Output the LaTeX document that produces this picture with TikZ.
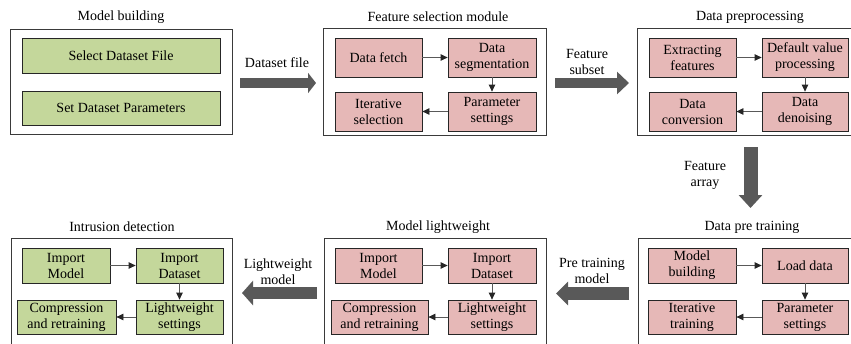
\documentclass[tikz,border=0pt]{standalone}
\usepackage{fontspec}
\setmainfont{Liberation Serif}
\usetikzlibrary{arrows.meta}
\definecolor{gfill}{HTML}{C4D79B}
\definecolor{pfill}{HTML}{E6B8B7}
\definecolor{barrow}{HTML}{595959}
\definecolor{oline}{HTML}{3A3A3A}
\begin{document}
\begin{tikzpicture}[x=1pt,y=-1pt,
  every node/.style={font=\fontsize{14}{16}\selectfont, inner sep=0pt, align=center},
  outerbox/.style={draw=oline, line width=0.8pt, fill=white},
  gbox/.style={draw=black!85, line width=0.8pt, fill=gfill},
  pbox/.style={draw=black!85, line width=0.8pt, fill=pfill},
  ttl/.style={},
  lbl/.style={},
  arr/.style={draw=black!65, line width=0.8pt, -{Triangle[length=7pt,width=6.5pt,color=black!85,fill=black!85]}},
]
\clip (0,0) rectangle (851,343);
\fill[white] (0,0) rectangle (851,343);

% ---------- Module 1: Model building
\node[outerbox, minimum width=222pt, minimum height=105pt] (o1) at (121,81.5) {};
\node[ttl] (t1) at (121,17) {Model building};
\node[gbox, minimum width=198pt, minimum height=35pt] (sdf) at (121,55.5) {Select Dataset File};
\node[gbox, minimum width=198pt, minimum height=34pt] (sdp) at (121,108) {Set Dataset Parameters};

% ---------- Module 2: Feature selection module
\node[outerbox, minimum width=223pt, minimum height=107pt] (o2) at (434.5,81.5) {};
\node[ttl] (t2) at (438,17) {Feature selection module};
\node[pbox, minimum width=87pt, minimum height=39pt] (df) at (378.5,57.5) {Data fetch};
\node[pbox, minimum width=88pt, minimum height=39pt] (ds) at (492,57.5) {Data\\segmentation};
\node[pbox, minimum width=87pt, minimum height=39pt] (is) at (378.5,111.5) {Iterative\\selection};
\node[pbox, minimum width=88pt, minimum height=39pt] (ps) at (492,111.5) {Parameter\\settings};
\draw[arr] (df) -- (ds);
\draw[arr] (ds) -- (ps);
\draw[arr] (ps) -- (is);

% ---------- Module 3: Data preprocessing
\node[outerbox, minimum width=223pt, minimum height=107pt] (o3) at (748.5,81.5) {};
\node[ttl] (t3) at (750,17) {Data preprocessing};
\node[pbox, minimum width=87pt, minimum height=39pt] (ef) at (692.5,57.5) {Extracting\\features};
\node[pbox, minimum width=86pt, minimum height=39pt] (dv) at (805,57.5) {Default value\\processing};
\node[pbox, minimum width=87pt, minimum height=39pt] (dc) at (692.5,111.5) {Data\\conversion};
\node[pbox, minimum width=86pt, minimum height=39pt] (dd) at (805,111.5) {Data\\denoising};
\draw[arr] (ef) -- (dv);
\draw[arr] (dv) -- (dd);
\draw[arr] (dd) -- (dc);

% ---------- Module 4: Data pre training
\node[outerbox, minimum width=222pt, minimum height=122pt] (o4) at (749,299) {};
\node[ttl] (t4) at (752,227) {Data pre training};
\node[pbox, minimum width=88pt, minimum height=35pt] (mb) at (692,265.5) {Model\\building};
\node[pbox, minimum width=86pt, minimum height=35pt] (ld) at (805,265.5) {Load data};
\node[pbox, minimum width=88pt, minimum height=34pt] (it) at (692,317) {Iterative\\training};
\node[pbox, minimum width=86pt, minimum height=34pt] (pst) at (805,317) {Parameter\\settings};
\draw[arr] (mb) -- (ld);
\draw[arr] (ld) -- (pst);
\draw[arr] (pst) -- (it);

% ---------- Module 5: Model lightweight
\node[outerbox, minimum width=222pt, minimum height=122pt] (o5) at (435,299) {};
\node[ttl] (t5) at (438,227) {Model lightweight};
\node[pbox, minimum width=87pt, minimum height=35pt] (im5) at (378.5,265.5) {Import\\Model};
\node[pbox, minimum width=88pt, minimum height=35pt] (id5) at (492,265.5) {Import\\Dataset};
\node[pbox, minimum width=97pt, minimum height=34pt] (cr5) at (379.5,317) {Compression\\and retraining};
\node[pbox, minimum width=88pt, minimum height=34pt] (ls5) at (492,317) {Lightweight\\settings};
\draw[arr] (im5) -- (id5);
\draw[arr] (id5) -- (ls5);
\draw[arr] (ls5) -- (cr5);

% ---------- Module 6: Intrusion detection
\node[outerbox, minimum width=221pt, minimum height=122pt] (o6) at (121.5,299) {};
\node[ttl] (t6) at (122,227) {Intrusion detection};
\node[gbox, minimum width=88pt, minimum height=35pt] (im6) at (66,265.5) {Import\\Model};
\node[gbox, minimum width=87pt, minimum height=35pt] (id6) at (179.5,265.5) {Import\\Dataset};
\node[gbox, minimum width=99pt, minimum height=34pt] (cr6) at (66.5,317) {Compression\\and retraining};
\node[gbox, minimum width=87pt, minimum height=34pt] (ls6) at (179.5,317) {Lightweight\\settings};
\draw[arr] (im6) -- (id6);
\draw[arr] (id6) -- (ls6);
\draw[arr] (ls6) -- (cr6);

% ---------- Block arrows between modules
\coordinate (a1s) at (240,83);   \coordinate (a1e) at (316,83);
\coordinate (a2s) at (555,83);   \coordinate (a2e) at (629,83);
\coordinate (a3s) at (750.5,147); \coordinate (a3e) at (750.5,208);
\coordinate (a4s) at (629,293.5); \coordinate (a4e) at (556,293.5);
\coordinate (a5s) at (317,293);  \coordinate (a5e) at (242,293);

\draw[barrow, line width=10pt, -{Triangle[length=8pt,width=20pt]}] (a1s) -- (a1e);
\draw[barrow, line width=10pt, -{Triangle[length=12pt,width=22pt]}] (a2s) -- (a2e);
\draw[barrow, line width=14pt, -{Triangle[length=13pt,width=23pt]}] (a3s) -- (a3e);
\draw[barrow, line width=13pt, -{Triangle[length=12pt,width=23pt]}] (a4s) -- (a4e);
\draw[barrow, line width=12pt, -{Triangle[length=11pt,width=24pt]}] (a5s) -- (a5e);

\node[lbl] (l1) at (277,63) {Dataset file};
\node[lbl] (l2) at (587,62) {Feature\\subset};
\node[lbl] (l3) at (705,175) {Feature\\array};
\node[lbl] (l4) at (592,271) {Pre training\\model};
\node[lbl] (l5) at (278,272) {Lightweight\\model};
\end{tikzpicture}
\end{document}
